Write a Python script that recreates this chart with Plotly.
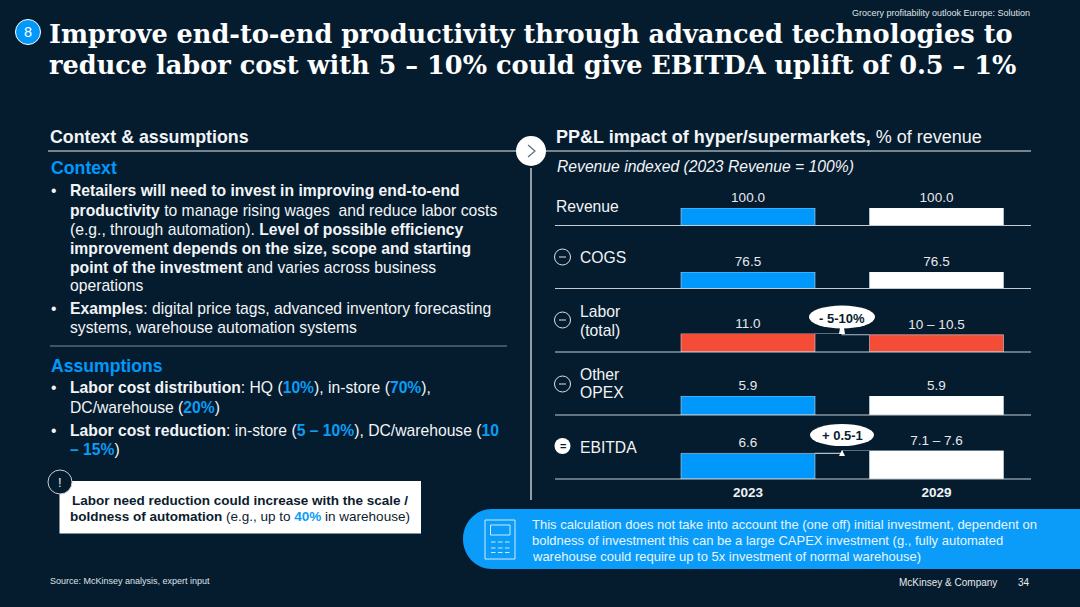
import plotly.graph_objects as go

W, H = 1080, 607
BG = "#051c2f"
BLUE = "#0099fb"
RED = "#f44c36"
WHITE = "#ffffff"
RULE = "#b4bec8"
SANS = "Liberation Sans"
SERIF = "DejaVu Serif"

# chart data
years = ["2023", "2029"]
rows = ["Revenue", "COGS", "Labor", "Other OPEX", "EBITDA"]
values_2023 = [100.0, 76.5, 11.0, 5.9, 6.6]
values_2029 = [100.0, 76.5, 10.25, 5.9, 7.35]
labels_2023 = ["100.0", "76.5", "11.0", "5.9", "6.6"]
labels_2029 = ["100.0", "76.5", "10 – 10.5", "5.9", "7.1 – 7.6"]
colors_2023 = [BLUE, BLUE, RED, BLUE, BLUE]
colors_2029 = [WHITE, WHITE, RED, WHITE, WHITE]

# pixel rows of the panels (top of tallest bar, baseline)
panel_px = [(208, 225.5), (272, 288.5), (333.5, 352), (396, 415), (450.5, 479)]
bar_width = 0.711


def fx(x):
    return x / W


def fy(y):
    return 1 - y / H


def blue(s):
    return '<span style="color:#0a9df5"><b>%s</b></span>' % s


fig = go.Figure()
layout_axes = {}
for i in range(5):
    n = "" if i == 0 else str(i + 1)
    top = max(values_2023[i], values_2029[i])
    fig.add_trace(go.Bar(x=[0], y=[values_2023[i]], width=bar_width, marker_color=colors_2023[i],
                         text=[labels_2023[i]], textposition="outside", cliponaxis=False,
                         constraintext="none", textfont=dict(color="#e6e9ec", size=13.5, family=SANS),
                         xaxis="x" + n, yaxis="y" + n, showlegend=False))
    fig.add_trace(go.Bar(x=[1], y=[values_2029[i]], width=bar_width, marker_color=colors_2029[i],
                         text=[labels_2029[i]], textposition="outside", cliponaxis=False,
                         constraintext="none", textfont=dict(color="#e6e9ec", size=13.5, family=SANS),
                         xaxis="x" + n, yaxis="y" + n, showlegend=False))
    last = i == 4
    layout_axes["xaxis" + n] = dict(domain=[fx(653.75), fx(1030.75)], range=[-0.5, 1.5], anchor="y" + n,
                                    showgrid=False, zeroline=False, showline=False,
                                    tickvals=[0, 1] if last else [],
                                    ticktext=["<b>%s</b>" % y for y in years] if last else [],
                                    ticks="outside" if last else "", ticklen=1, tickcolor="rgba(0,0,0,0)",
                                    tickfont=dict(color="#f0f2f4", size=13.5, family=SANS))
    layout_axes["yaxis" + n] = dict(domain=[fy(panel_px[i][1]), fy(panel_px[i][0])], range=[0, top],
                                    anchor="x" + n, visible=False)

# bridges between 2023 and 2029 bars
for i in [2, 4]:
    n = str(i + 1)
    fig.add_trace(go.Scatter(x=[0.5 - (1 - bar_width) / 2, 0.5 + (1 - bar_width) / 2],
                             y=[values_2023[i], values_2029[i]], mode="lines",
                             line=dict(color=RULE, width=1.2, shape="hvh"), cliponaxis=False,
                             xaxis="x" + n, yaxis="y" + n, showlegend=False, hoverinfo="skip"))

shapes = []
anns = []


def line(x0, y0, x1, y1, color=RULE, width=1.0):
    shapes.append(dict(type="line", xref="paper", yref="paper", x0=fx(x0), y0=fy(y0), x1=fx(x1), y1=fy(y1),
                       line=dict(color=color, width=width), layer="above"))


def rect(x0, y0, x1, y1, fill=None, color=None, width=1.0):
    shapes.append(dict(type="rect", xref="paper", yref="paper", x0=fx(x0), y0=fy(y0), x1=fx(x1), y1=fy(y1),
                       fillcolor=fill or "rgba(0,0,0,0)", line=dict(color=color or "rgba(0,0,0,0)", width=width),
                       layer="above"))


def circle(cx, cy, rx, ry=None, fill=None, color=None, width=1.0):
    ry = rx if ry is None else ry
    shapes.append(dict(type="circle", xref="paper", yref="paper", x0=fx(cx - rx), y0=fy(cy + ry), x1=fx(cx + rx),
                       y1=fy(cy - ry), fillcolor=fill or "rgba(0,0,0,0)",
                       line=dict(color=color or "rgba(0,0,0,0)", width=width), layer="above"))


def poly(points, fill=None, color=None, width=1.0):
    path = "M " + " L ".join("%.5f %.5f" % (fx(x), fy(y)) for x, y in points)
    if fill:
        path += " Z"
    shapes.append(dict(type="path", xref="paper", yref="paper", path=path, fillcolor=fill or "rgba(0,0,0,0)",
                       line=dict(color=color or "rgba(0,0,0,0)", width=width), layer="above"))


def label(x, y, text, size=15.7, color="#f2f4f6", family=SANS, anchor="left"):
    anns.append(dict(xref="paper", yref="paper", x=fx(x), y=fy(y), text=text, showarrow=False, xanchor=anchor,
                     yanchor="middle", align=anchor, borderpad=0, font=dict(size=size, color=color, family=family)))


# title
circle(28, 32, 12.5, fill=BLUE, color="#ffffff", width=1)
label(28, 32.5, "8", 14.5, WHITE, anchor="center")
title_lines = ["Improve end-to-end productivity through advanced technologies to",
               "reduce labor cost with 5 – 10% could give EBITDA uplift of 0.5 – 1%"]
label(47.5, 33.5, "<b>%s</b>" % title_lines[0], 25.6, WHITE, SERIF)
label(47.5, 65, "<b>%s</b>" % title_lines[1], 25.6, WHITE, SERIF)
label(1031, 13, "Grocery profitability outlook Europe: Solution", 9, "#dfe3e7", anchor="right")

# left column
label(48.5, 137, "<b>Context &amp; assumptions</b>", 17.8)
line(48, 151, 520, 151, "#e8ebee", 1.2)
label(49.5, 168, "<b>Context</b>", 17.7, BLUE)
context_lines = [(191, "<b>Retailers will need to invest in improving end-to-end</b>"),
                 (210, "<b>productivity</b> to manage rising wages  and reduce labor costs"),
                 (229, "(e.g., through automation). <b>Level of possible efficiency</b>"),
                 (248, "<b>improvement depends on the size, scope and starting</b>"),
                 (267, "<b>point of the investment</b> and varies across business"),
                 (286, "operations"),
                 (308, "<b>Examples</b>: digital price tags, advanced inventory forecasting"),
                 (327, "systems, warehouse automation systems")]
for y, t in context_lines:
    label(69, y, t)
label(49.5, 191, "•")
label(49.5, 308, "•")
line(50, 346, 507, 346, "#7d8b98", 1)
label(49.5, 366, "<b>Assumptions</b>", 17.6, BLUE)
assumption_lines = [(388, "<b>Labor cost distribution</b>: HQ (%s), in-store (%s)," % (blue("10%"), blue("70%"))),
                    (407, "DC/warehouse (%s)" % blue("20%")),
                    (430, "<b>Labor cost reduction</b>: in-store (%s), DC/warehouse (%s" % (blue("5 – 10%"), blue("10"))),
                    (449, "%s)" % blue("– 15%"))]
for y, t in assumption_lines:
    label(69, y, t)
label(49.5, 388, "•")
label(49.5, 430, "•")

# note box
rect(59.5, 481, 421, 533.5, fill=WHITE)
circle(60, 482, 12, fill=BG, color="#c6ced6", width=1)
label(60, 482, "!", 13, "#e8ebee", anchor="center")
label(240, 500, "<b>Labor need reduction could increase with the scale /</b>", 13.5, "#0b1d2e", anchor="center")
label(240, 516, "<b>boldness of automation</b> (e.g., up to %s in warehouse)" % blue("40%"), 13.5, "#0b1d2e", anchor="center")
label(48.5, 581, "Source: McKinsey analysis, expert input", 9, "#dfe3e7")

# centre divider
line(531, 168, 531, 500, "#f2f4f6", 1.2)
line(542, 151, 1031, 151, "#e8ebee", 1.2)
circle(531, 151, 15, fill=WHITE)
poly([(528, 145), (535, 151), (528, 157)], color="#5c6b78", width=1.2)

# right column headers
label(555, 137, "<b>PP&amp;L impact of hyper/supermarkets,</b> % of revenue", 18)
label(555.5, 166, "<i>Revenue indexed (2023 Revenue = 100%)</i>", 15.7)

# row baselines and labels
for y in [225.5, 288.5, 352, 415, 479]:
    line(555, y, 1031, y, "#c3cbd3", 1.2)
label(554.5, 207, "Revenue")
label(578.5, 257, "COGS")
label(578.5, 311.5, "Labor")
label(578.5, 330.5, "(total)")
label(578.5, 374.5, "Other")
label(578.5, 392.5, "OPEX")
label(578.5, 447, "EBITDA")
for y in [257, 320, 384]:
    circle(562.5, y, 8, color="#dfe3e7", width=1)
    line(559, y, 566, y, "#dfe3e7", 1)
circle(562.5, 446, 8, fill=WHITE)
label(562.5, 446, "<b>=</b>", 11, BG, anchor="center")

# callouts
circle(842, 317, 33, 11.5, fill=WHITE)
poly([(840, 328), (844, 328), (845, 334), (839, 334)], fill=WHITE)
label(842, 318, "<b>- 5-10%</b>", 13, "#0b1d2e", anchor="center")
circle(842, 435, 32, 11, fill=WHITE)
poly([(842, 450), (845, 456), (839, 456)], fill=WHITE)
label(842, 435.5, "<b>+ 0.5-1</b>", 13, "#0b1d2e", anchor="center")

# blue pill
pill = "M %.5f %.5f L %.5f %.5f L %.5f %.5f C %.5f %.5f %.5f %.5f %.5f %.5f C %.5f %.5f %.5f %.5f %.5f %.5f Z" % (
    fx(1080), fy(509), fx(1080), fy(569), fx(492), fy(569), fx(476), fy(569), fx(463), fy(556), fx(463), fy(539),
    fx(463), fy(522), fx(476), fy(509), fx(492), fy(509))
shapes.append(dict(type="path", xref="paper", yref="paper", path=pill, fillcolor="#0a9cf8",
                   line=dict(color="rgba(0,0,0,0)", width=0), layer="above"))

# calculator icon
rect(485, 520, 515, 559, color="#cfeafd", width=1)
rect(490.5, 525, 510, 535, color="#cfeafd", width=1)
for y in [542, 548, 552.5]:
    for x in [491, 498, 505]:
        line(x, y, x + 4.5, y, "#cfeafd", 1)

note_lines = ["This calculation does not take into account the (one off) initial investment, dependent on",
              "boldness of investment this can be a large CAPEX investment (g., fully automated",
              "warehouse could require up to 5x investment of normal warehouse)"]
for y, t in zip([524, 540, 556], note_lines):
    label(530.5, y, t, 13, "#e6f5ff")

label(998, 582, "McKinsey &amp; Company", 10, "#e6e9ec", anchor="right")
label(1031, 582, "34", 10, "#e6e9ec", anchor="right")

fig.update_layout(width=W, height=H, margin=dict(l=0, r=0, t=0, b=0), paper_bgcolor=BG, plot_bgcolor="rgba(0,0,0,0)",
                  barmode="overlay", showlegend=False, shapes=shapes, annotations=anns,
                  font=dict(family=SANS), **layout_axes)
fig.write_html("out.html", config=dict(displayModeBar=False),
               post_script="document.body.style.margin='0';document.body.style.overflow='hidden';")
